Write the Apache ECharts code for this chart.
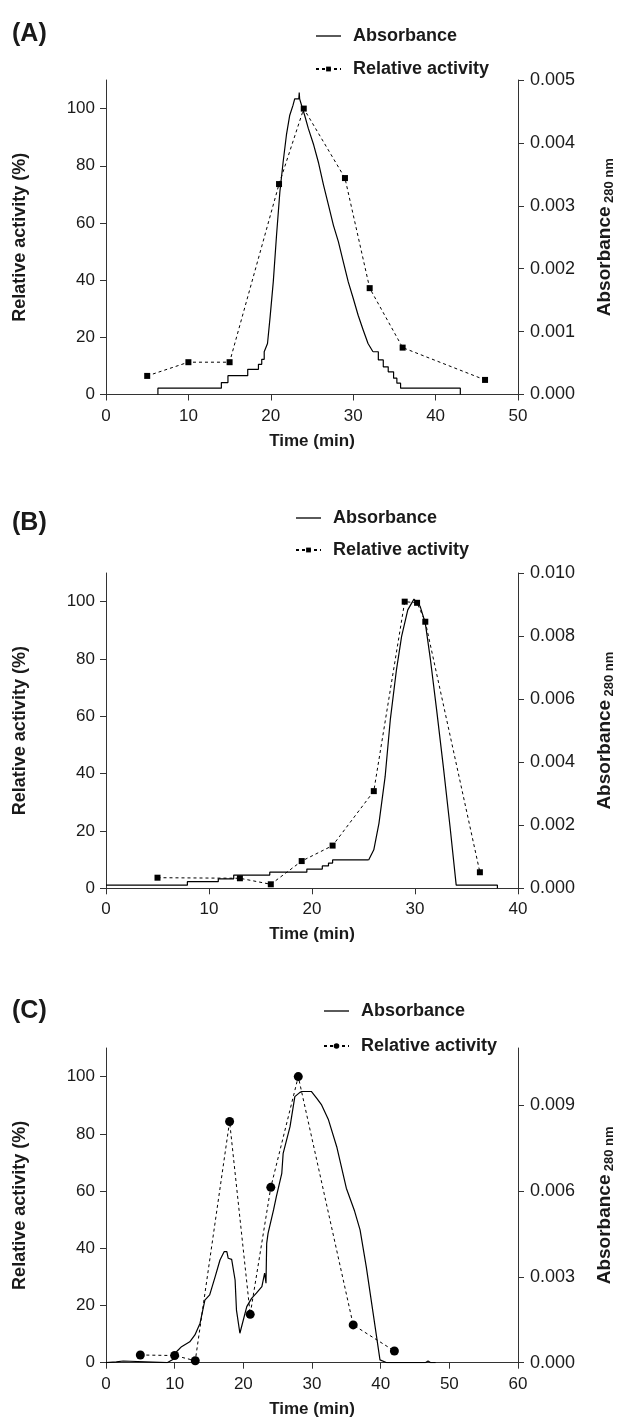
<!DOCTYPE html>
<html><head><meta charset="utf-8">
<script src="https://cdn.jsdelivr.net/npm/echarts@6/dist/echarts.min.js"></script>
<style>html,body{margin:0;padding:0;background:#fff}#c{width:618px;height:1428px}</style>
</head><body><div id="c"></div>
<script>
// ---------- Panel A ----------
const actA_t = [5, 10, 15, 21, 24, 29, 32, 36, 46];
const actA_v = [6.5, 11.3, 11.3, 73.6, 100, 75.7, 37.2, 16.4, 5.1];
const absA1_t = [6.3, 6.3, 14.0, 14.0, 14.8, 14.8, 17.2, 17.2, 18.5, 18.5, 18.9, 18.9, 19.2, 19.2, 19.6, 19.9, 20.3, 20.7, 21.1, 21.5, 21.9, 22.3, 22.7, 22.9, 23.1, 23.4, 23.45, 23.5, 23.75, 24.15, 24.55, 25.2, 25.8, 26.4, 27.0, 27.6, 28.2, 28.8, 29.4, 30.0, 30.6, 31.2, 31.8, 32.4];
const absA1_v = [0, 0.0001, 0.0001, 0.00019, 0.00019, 0.0003, 0.0003, 0.0004, 0.0004, 0.00048, 0.00048, 0.00056, 0.00056, 0.00068, 0.00081, 0.00121, 0.00179, 0.00254, 0.00322, 0.0037, 0.00413, 0.00444, 0.0046, 0.0047, 0.0047, 0.0047, 0.0048, 0.0047, 0.00459, 0.00442, 0.00423, 0.00397, 0.00368, 0.00333, 0.00301, 0.00269, 0.00243, 0.00211, 0.00179, 0.00153, 0.00126, 0.00103, 0.00081, 0.00068];
const absA2_t = [32.4, 33.05, 33.65, 34.25, 34.9, 35.3, 35.75, 43.0, 43.0];
const absA2_v = [0.00068, 0.00055, 0.00044, 0.00036, 0.00026, 0.00018, 0.0001, 0.0001, 0];
const rightTicksA = [0, 0.001, 0.002, 0.003, 0.004, 0.005];

// ---------- Panel B ----------
const actB_t = [5, 13, 16, 19, 22, 26, 29, 30.2, 31, 36.3];
const actB_v = [3.7, 3.5, 1.4, 9.5, 14.9, 33.9, 100, 99.6, 93, 5.6];
const absB1_t = [0, 7.9, 10.9, 12.4, 15.9, 19.5, 21.0, 21.6, 22.0, 25.5];
const absB1_v = [0.0001, 0.00021, 0.0003, 0.00042, 0.00051, 0.00061, 0.00071, 0.0008, 0.0009, 0.0009];
const absB2_t = [25.5, 26.0, 26.5, 27.1, 27.6, 28.2, 28.7, 29.3, 29.9, 30.5, 31.0, 31.5, 32.1, 32.75, 33.4, 34.0, 38.0, 38.0];
const absB2_v = [0.0009, 0.00122, 0.00206, 0.00354, 0.00534, 0.00693, 0.00799, 0.00883, 0.00917, 0.00894, 0.00841, 0.00725, 0.00566, 0.00386, 0.00196, 0.0001, 0.0001, 0];
const rightTicksB = [0, 0.002, 0.004, 0.006, 0.008, 0.010];

// ---------- Panel C ----------
const actC_t = [5, 10, 13, 18, 21, 24, 28, 36, 42];
const actC_v = [2.7, 2.5, 0.7, 84.3, 16.9, 61.3, 100, 13.2, 4.1];
const absC_t = [0, 1.5, 2.5, 2.7, 8.9, 9.8, 10.3, 11.0, 12.2, 12.95, 13.7, 14.4, 15.1, 15.9, 16.6, 17.2, 17.6, 17.8, 18.3, 18.8, 19.0, 19.5, 20.5, 21.2, 21.9, 22.7, 23.1, 23.3, 23.4, 23.6, 24.4, 24.8, 25.6, 25.8, 26.8, 27.5, 28.2, 28.5, 29.9, 30.7, 31.4, 32.4, 33.6, 35.0, 36.2, 37.0, 37.9, 38.9, 39.9, 40.9, 46.5, 46.9, 47.3, 48];
const absC_v = [0, 0.00003, 0.00006, 0, 0, 0.00012, 0.00039, 0.00056, 0.00073, 0.00097, 0.00138, 0.00219, 0.00237, 0.00301, 0.00359, 0.00388, 0.00388, 0.00365, 0.00361, 0.00289, 0.00184, 0.00103, 0.00196, 0.00225, 0.00243, 0.00266, 0.00313, 0.00278, 0.00417, 0.00452, 0.00534, 0.0058, 0.00662, 0.00732, 0.00825, 0.0093, 0.00944, 0.00948, 0.00948, 0.00924, 0.00901, 0.00849, 0.00755, 0.0061, 0.0053, 0.00464, 0.00336, 0.00173, 0.0001, 0, 0, 0.00006, 0, 0];
const rightTicksC = [0, 0.003, 0.006, 0.009];

const leftTicks = [0, 20, 40, 60, 80, 100];
const panelLabels = ['(A)', '(B)', '(C)'];

const zip = (t, v) => t.map((x, i) => [x, v[i]]);
const FONT = '"Liberation Sans", Arial, Helvetica, sans-serif';
const AX = '#333';
const TXT = '#1a1a1a';
const LINE_ICON = 'path://M0,0H25V1.3H0Z';

const grids = [
  {left: 106, right: 100, top: 80, height: 314.5, outerBoundsMode: 'none', containLabel: false},
  {left: 106, right: 100, top: 573, height: 315.3, outerBoundsMode: 'none', containLabel: false},
  {left: 106, right: 100, top: 1048, height: 314.7, outerBoundsMode: 'none', containLabel: false}
];

function xAx(i, max) {
  return {
    type: 'value', gridIndex: i, min: 0, max: max, interval: 10,
    name: 'Time (min)', nameLocation: 'middle', nameGap: 38,
    nameTextStyle: {fontFamily: FONT, fontWeight: 'bold', fontSize: 17, color: TXT},
    axisLine: {lineStyle: {color: AX, width: 1}},
    axisTick: {length: 6, lineStyle: {color: AX}},
    axisLabel: {fontFamily: FONT, fontSize: 17, color: TXT, margin: 13},
    splitLine: {show: false}
  };
}
function yLeft(i) {
  return {
    type: 'value', gridIndex: i, min: 0, max: 110, position: 'left',
    name: 'Relative activity (%)', nameLocation: 'middle', nameGap: 77, nameRotate: 90,
    nameTextStyle: {fontFamily: FONT, fontWeight: 'bold', fontSize: 18, color: TXT},
    axisLine: {show: true, lineStyle: {color: AX, width: 1}},
    axisTick: {show: true, length: 6, lineStyle: {color: AX}, customValues: leftTicks},
    axisLabel: {fontFamily: FONT, fontSize: 17, color: TXT, margin: 11, customValues: leftTicks},
    splitLine: {show: false}
  };
}
function yRight(i, max, ticks) {
  return {
    type: 'value', gridIndex: i, min: 0, max: max, position: 'right',
    name: '{a|Absorbance} {b|280 nm}', nameLocation: 'middle', nameGap: 76, nameRotate: 90,
    nameTextStyle: {
      fontFamily: FONT, color: TXT,
      rich: {
        a: {fontFamily: FONT, fontWeight: 'bold', fontSize: 19, color: TXT, lineHeight: 22},
        b: {fontFamily: FONT, fontWeight: 'bold', fontSize: 13, color: TXT, lineHeight: 13, verticalAlign: 'bottom'}
      }
    },
    axisLine: {show: true, lineStyle: {color: AX, width: 1}},
    axisTick: {show: true, length: 6, lineStyle: {color: AX}, customValues: ticks},
    axisLabel: {fontFamily: FONT, fontSize: 18, color: TXT, margin: 12, customValues: ticks,
      formatter: v => Number(v).toFixed(3)},
    splitLine: {show: false}
  };
}

const absStyle = {color: '#000', width: 1.2};
const actLine = {color: '#000', width: 1, type: [3, 3]};

function legend(tag, left, top, gap, ih) {
  return {
    left: left, top: top, orient: 'vertical', padding: 0, itemWidth: 25, itemHeight: ih, itemGap: gap,
    selectedMode: false,
    data: [{name: 'Absorbance|' + tag, icon: LINE_ICON}, {name: 'Relative activity|' + tag}],
    formatter: n => n.split('|')[0],
    textStyle: {fontFamily: FONT, fontWeight: 'bold', fontSize: 18, color: TXT, padding: [0, 0, 0, 7]}
  };
}

const option = {
  animation: false,
  backgroundColor: '#fff',
  title: panelLabels.map((t, i) => ({
    text: t, left: 12, top: [22, 511, 999][i], padding: 0,
    textStyle: {fontFamily: FONT, fontWeight: 'bold', fontSize: 25, color: TXT}
  })),
  legend: [legend('A', 315, 27, 15, 6), legend('B', 295, 509, 14, 6), legend('C', 323, 1002, 17, 7)],
  grid: grids,
  xAxis: [xAx(0, 50), xAx(1, 40), xAx(2, 60)],
  yAxis: [yLeft(0), yRight(0, 0.005, rightTicksA), yLeft(1), yRight(1, 0.010, rightTicksB), yLeft(2), yRight(2, 0.011, rightTicksC)],
  series: [
    {name: 'Absorbance|A', type: 'line', xAxisIndex: 0, yAxisIndex: 1, data: zip(absA1_t, absA1_v), symbol: 'none', lineStyle: absStyle, itemStyle: {color: '#000'}},
    {name: 'Absorbance|A', type: 'line', xAxisIndex: 0, yAxisIndex: 1, data: zip(absA2_t, absA2_v), step: 'end', symbol: 'none', lineStyle: absStyle, itemStyle: {color: '#000'}},
    {name: 'Relative activity|A', type: 'line', xAxisIndex: 0, yAxisIndex: 0, data: zip(actA_t, actA_v), symbol: 'rect', symbolSize: 6, lineStyle: actLine, itemStyle: {color: '#000'}, z: 5},

    {name: 'Absorbance|B', type: 'line', xAxisIndex: 1, yAxisIndex: 3, data: zip(absB1_t, absB1_v), step: 'end', symbol: 'none', lineStyle: absStyle, itemStyle: {color: '#000'}},
    {name: 'Absorbance|B', type: 'line', xAxisIndex: 1, yAxisIndex: 3, data: zip(absB2_t, absB2_v), symbol: 'none', lineStyle: absStyle, itemStyle: {color: '#000'}},
    {name: 'Relative activity|B', type: 'line', xAxisIndex: 1, yAxisIndex: 2, data: zip(actB_t, actB_v), symbol: 'rect', symbolSize: 6, lineStyle: actLine, itemStyle: {color: '#000'}, z: 5},

    {name: 'Absorbance|C', type: 'line', xAxisIndex: 2, yAxisIndex: 5, data: zip(absC_t, absC_v), symbol: 'none', lineStyle: absStyle, itemStyle: {color: '#000'}},
    {name: 'Relative activity|C', type: 'line', xAxisIndex: 2, yAxisIndex: 4, data: zip(actC_t, actC_v), symbol: 'circle', symbolSize: 9, lineStyle: actLine, itemStyle: {color: '#000'}, z: 5}
  ]
};

const chart = echarts.init(document.getElementById('c'), null, {renderer: 'canvas'});
chart.setOption(option);
</script>
</body></html>
